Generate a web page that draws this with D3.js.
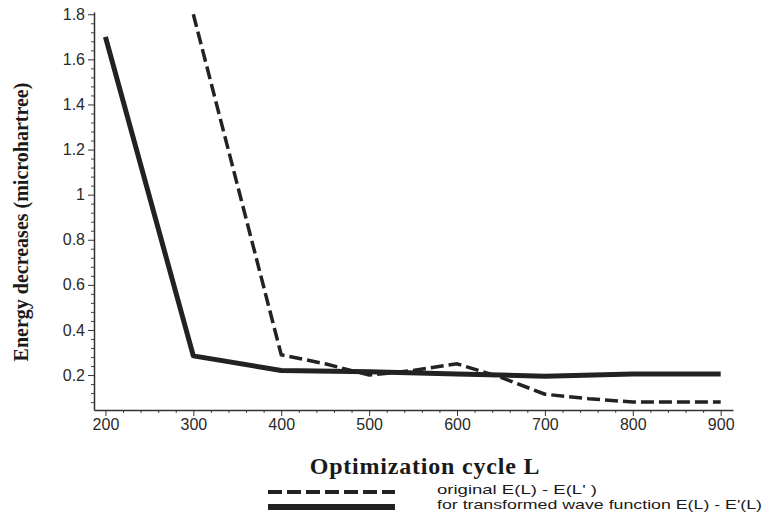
<!DOCTYPE html>
<html>
<head>
<meta charset="utf-8">
<script src="https://cdn.jsdelivr.net/npm/d3@7"></script>
<style>
  body { margin: 0; background: #fff; }
  .tick text { font-family: "Liberation Sans", Arial, sans-serif; font-size: 16px; fill: #2a2a2a; }
  .title { font-family: "Liberation Serif", "Times New Roman", serif; font-weight: bold; fill: #1a1a1a; }
  .legend { font-family: "Liberation Sans", Arial, sans-serif; font-size: 13px; fill: #1a1a1a; }
</style>
</head>
<body>
<div id="chart"></div>
<script>
// data
var cycles = [200, 300, 400, 500, 600, 700, 800, 900];
var transformed = [1.70, 0.285, 0.22, 0.215, 0.205, 0.195, 0.205, 0.205];
var origCycles = [300, 400, 450, 500, 550, 600, 650, 700, 750, 800, 900];
var original = [1.80, 0.29, 0.25, 0.20, 0.22, 0.25, 0.19, 0.115, 0.095, 0.08, 0.08];
var xTicks = [200, 300, 400, 500, 600, 700, 800, 900];
var yTicks = [0.2, 0.4, 0.6, 0.8, 1, 1.2, 1.4, 1.6, 1.8];
var legendLabels = ["original E(L) - E(L' )", "for transformed wave function E(L) - E'(L)"];

var width = 765, height = 519;
var margin = { left: 94, right: 32, top: 12, bottom: 109 };

var svg = d3.select('#chart').append('svg')
  .attr('width', width)
  .attr('height', height);

var x = d3.scaleLinear().domain([187, 914]).range([margin.left, width - margin.right]);
var y = d3.scaleLinear().domain([0.045, 1.81]).range([height - margin.bottom, margin.top]);

// minor ticks
var xMinor = d3.range(200, 915, 20).filter(d => d % 100 != 0);
var yMinor = d3.range(0.08, 1.81, 0.04).filter(d => Math.abs(d * 5 - Math.round(d * 5)) > 0.01);

svg.append('g')
  .attr('transform', `translate(0,${height - margin.bottom})`)
  .call(d3.axisBottom(x).tickValues(xMinor).tickSize(3).tickFormat(''))
  .call(g => g.select('.domain').remove())
  .call(g => g.selectAll('line').attr('stroke', '#444'));

svg.append('g')
  .attr('transform', `translate(${margin.left},0)`)
  .call(d3.axisLeft(y).tickValues(yMinor).tickSize(3).tickFormat(''))
  .call(g => g.select('.domain').remove())
  .call(g => g.selectAll('line').attr('stroke', '#444'));

// major axes
svg.append('g')
  .attr('transform', `translate(0,${height - margin.bottom})`)
  .call(d3.axisBottom(x).tickValues(xTicks).tickSize(6).tickSizeOuter(0).tickPadding(3))
  .call(g => g.select('.domain').attr('stroke', '#333').attr('stroke-width', 1.5))
  .call(g => g.selectAll('line').attr('stroke', '#333'));

svg.append('g')
  .attr('transform', `translate(${margin.left},0)`)
  .call(d3.axisLeft(y).tickValues(yTicks).tickSize(6).tickSizeOuter(0).tickPadding(3)
    .tickFormat(d => d3.format('')(d)))
  .call(g => g.select('.domain').attr('stroke', '#333').attr('stroke-width', 1.5))
  .call(g => g.selectAll('line').attr('stroke', '#333'));

var line = d3.line().x(d => x(d[0])).y(d => y(d[1]));

svg.append('path')
  .datum(origCycles.map((c, i) => [c, original[i]]))
  .attr('d', line)
  .attr('fill', 'none')
  .attr('stroke', '#222')
  .attr('stroke-width', 3.5)
  .attr('stroke-dasharray', '13,5');

svg.append('path')
  .datum(cycles.map((c, i) => [c, transformed[i]]))
  .attr('d', line)
  .attr('fill', 'none')
  .attr('stroke', '#222')
  .attr('stroke-width', 5)
  .attr('stroke-linejoin', 'round');

// axis titles
svg.append('text')
  .attr('class', 'title')
  .attr('x', 425)
  .attr('y', 474)
  .attr('text-anchor', 'middle')
  .style('font-size', '24px')
  .style('letter-spacing', '0.8px')
  .text('Optimization cycle L');

svg.append('text')
  .attr('class', 'title')
  .attr('transform', 'translate(28,222) rotate(-90)')
  .attr('text-anchor', 'middle')
  .style('font-size', '20px')
  .text('Energy decreases (microhartree)');

// legend
var legend = svg.append('g').attr('transform', 'translate(268,492)');
legend.append('line')
  .attr('x1', 0).attr('x2', 127).attr('y1', 0).attr('y2', 0)
  .attr('stroke', '#222').attr('stroke-width', 4).attr('stroke-dasharray', '14,5');
legend.append('line')
  .attr('x1', 0).attr('x2', 127).attr('y1', 15).attr('y2', 15)
  .attr('stroke', '#222').attr('stroke-width', 6);
legend.selectAll('text.legend')
  .data(legendLabels)
  .enter()
  .append('text')
  .attr('class', 'legend')
  .attr('x', 169)
  .attr('y', (d, i) => 2 + i * 15)
  .attr('textLength', (d, i) => i == 0 ? 160 : 325)
  .attr('lengthAdjust', 'spacingAndGlyphs')
  .text(d => d);
</script>
</body>
</html>
